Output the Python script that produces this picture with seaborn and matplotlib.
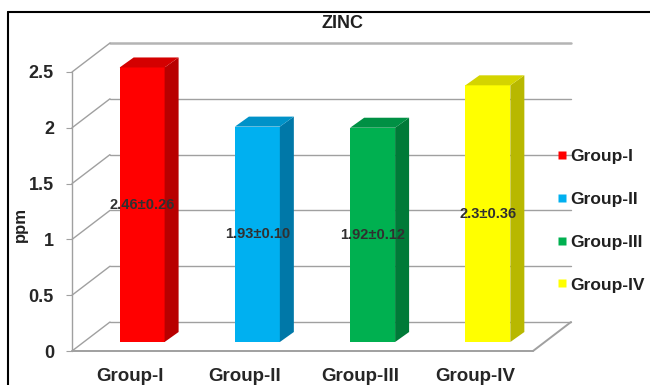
import matplotlib
matplotlib.use("Agg")
import matplotlib.pyplot as plt
import seaborn as sns
import numpy as np
import pandas as pd
from matplotlib.patches import Polygon
from matplotlib.lines import Line2D

# ---- data ----
groups = ["Group-I", "Group-II", "Group-III", "Group-IV"]
zinc_ppm = [2.46, 1.93, 1.92, 2.30]
bar_labels = ["2.46±0.26", "1.93±0.10", "1.92±0.12", "2.3±0.36"]
face_colors = ["#ff0000", "#00b0f0", "#00b050", "#ffff00"]
side_colors = ["#b80000", "#0078a8", "#007a38", "#b8b800"]
top_colors = ["#d40000", "#0092c8", "#009044", "#d4d400"]
y_ticks = [0, 0.5, 1, 1.5, 2, 2.5]
y_tick_labels = ["0", "0.5", "1", "1.5", "2", "2.5"]
title = "ZINC"
y_title = "ppm"

sns.set_style("white")
plt.rcParams["font.family"] = ["Liberation Sans", "DejaVu Sans"]

W, H = 650, 385
fig = plt.figure(figsize=(W / 100, H / 100), dpi=100)
L, R, T, B = 72, 533, 72, 351
ax = fig.add_axes([L / W, 1 - B / H, (R - L) / W, (B - T) / H])

df = pd.DataFrame({"group": groups, "ppm": zinc_ppm})
sns.barplot(data=df, x="group", y="ppm", hue="group", palette=face_colors,
            width=0.39, legend=False, ax=ax, saturation=1, zorder=3)
ax.set_xlim(-0.5, len(groups) - 0.5)
ax.set_ylim(0, 2.5)

px_x = (R - L) / (len(groups))
px_y = (B - T) / 2.5
def dx(p): return p / px_x
def dy(p): return p / px_y

wx, wy = dx(38), dy(29)      # wall depth
bx, by = dx(12.5), dy(9)     # bar set-back
sx, sy = dx(14), dy(10)      # bar depth

gcol = "#a0a0a0"
x0, x1 = -0.5, len(groups) - 0.5
# back-wall gridlines and left-wall diagonals
for yv in y_ticks:
    lw = 1.8 if yv == y_ticks[-1] else 1.0
    c = "#b4b4b4" if yv == y_ticks[-1] else gcol
    ax.add_line(Line2D([x0 + wx, x1 + wx], [yv + wy, yv + wy], color=c, lw=lw, clip_on=False, zorder=1))
    ax.add_line(Line2D([x0, x0 + wx], [yv, yv + wy], color=gcol, lw=1.0, clip_on=False, zorder=1))
# front-left axis and floor
ax.add_line(Line2D([x0, x0], [0, 2.5], color=gcol, lw=1.0, clip_on=False, zorder=2))
ax.add_line(Line2D([x0, x1], [0, 0], color=gcol, lw=1.4, clip_on=False, zorder=2))
ax.add_line(Line2D([x1, x1 + wx], [0, wy], color=gcol, lw=1.4, clip_on=False, zorder=2))

# 3D faces for bars
for i, p in enumerate(ax.patches[:len(groups)]):
    p.set_x(p.get_x() + bx)
    p.set_y(by)
    p.set_edgecolor("none")
    x, w, h = p.get_x(), p.get_width(), p.get_height()
    top = by + h
    side = Polygon([(x + w, by), (x + w, top), (x + w + sx, top + sy), (x + w + sx, by + sy)],
                   closed=True, facecolor=side_colors[i], edgecolor="none", clip_on=False, zorder=3)
    topf = Polygon([(x, top), (x + w, top), (x + w + sx, top + sy), (x + sx, top + sy)],
                   closed=True, facecolor=top_colors[i], edgecolor="none", clip_on=False, zorder=3)
    ax.add_patch(side)
    ax.add_patch(topf)
    p.set_clip_on(False)
    ax.text(x + w / 2, by + h / 2, bar_labels[i], ha="center", va="center",
            fontsize=10.5, fontweight="bold", color="#303030", zorder=5)

for s in ax.spines.values():
    s.set_visible(False)
ax.set_yticks(y_ticks)
ax.set_yticklabels(y_tick_labels, fontsize=13, fontweight="bold", color="#262626")
ax.tick_params(axis="y", length=4, color=gcol, pad=9, left=True)
ax.tick_params(axis="x", length=0, pad=12)
for t in ax.get_xticklabels():
    t.set_fontsize(13.5)
    t.set_fontweight("bold")
    t.set_color("#262626")
ax.set_xlabel("")
ax.set_ylabel("")
ax.grid(False)

fig.text(343 / W, 1 - 23 / H, title, ha="center", va="center", fontsize=13, fontweight="bold", color="#202020")
fig.text(20 / W, 1 - 224 / H, y_title, ha="center", va="center", rotation=90,
         fontsize=12, fontweight="bold", color="#202020")

handles = [Line2D([], [], marker="s", linestyle="none", markersize=5.5,
                  markerfacecolor=c, markeredgecolor="none") for c in face_colors]
fig.legend(handles, groups, loc="upper left", bbox_to_anchor=(541 / W, 1 - 133 / H),
           frameon=False, handlelength=0.6, handletextpad=0.2, labelspacing=1.6,
           prop={"size": 12.5, "weight": "bold"}, labelcolor="#202020")

# figure border
fig.add_artist(Line2D([8 / W, 8 / W], [0, 1 - 12 / H], color="black", lw=1.5, transform=fig.transFigure))
fig.add_artist(Line2D([8 / W, 1], [1 - 12 / H, 1 - 12 / H], color="black", lw=1.5, transform=fig.transFigure))

fig.savefig("out.png", dpi=100, facecolor="white")
